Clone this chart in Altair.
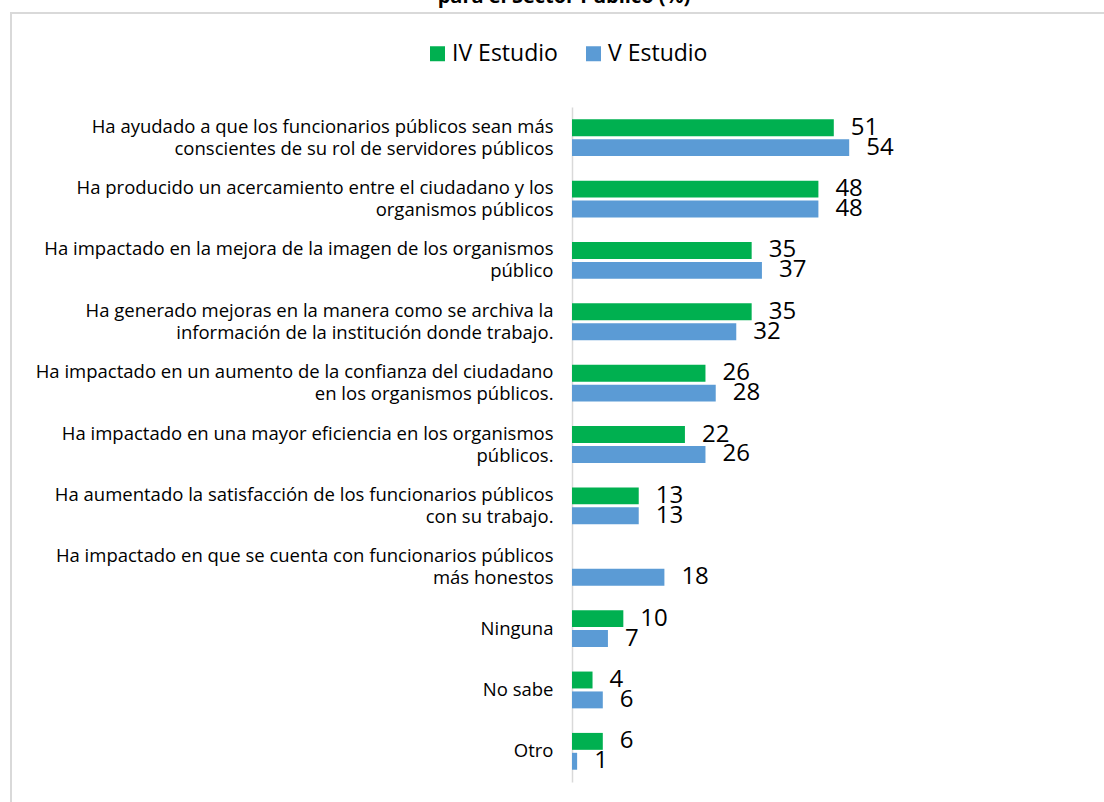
import altair as alt
import pandas as pd

categories = [
    "Ha ayudado a que los funcionarios públicos sean más\nconscientes de su rol de servidores públicos",
    "Ha producido un acercamiento entre el ciudadano y los\norganismos públicos",
    "Ha impactado en la mejora de la imagen de los organismos\npúblico",
    "Ha generado mejoras en la manera como se archiva la\ninformación de la institución donde trabajo.",
    "Ha impactado en un aumento de la confianza del ciudadano\nen los organismos públicos.",
    "Ha impactado en una mayor eficiencia en los organismos\npúblicos.",
    "Ha aumentado la satisfacción de los funcionarios públicos\ncon su trabajo.",
    "Ha impactado en que se cuenta con funcionarios públicos\nmás honestos",
    "Ninguna",
    "No sabe",
    "Otro",
]
studies = ["IV Estudio", "V Estudio"]
iv_values = [51, 48, 35, 35, 26, 22, 13, None, 10, 4, 6]
v_values = [54, 48, 37, 32, 28, 26, 13, 18, 7, 6, 1]
colors = ["#00B050", "#5B9BD5"]
title_text = "para el Sector Público (%)"

rows = []
for c, a, b in zip(categories, iv_values, v_values):
    if a is not None:
        rows.append({"cat": c, "study": studies[0], "value": a})
    if b is not None:
        rows.append({"cat": c, "study": studies[1], "value": b})
df = pd.DataFrame(rows)

FONT = "Open Sans"

base = alt.Chart(df).encode(
    y=alt.Y(
        "cat:N",
        sort=categories,
        scale=alt.Scale(paddingInner=0.4, paddingOuter=0.2),
        axis=alt.Axis(
            title=None,
            ticks=False,
            domainColor="#d9d9d9",
            domainWidth=1.5,
            labelFont=FONT,
            labelFontSize=18.5,
            labelColor="#000000",
            labelLineHeight=22,
            labelPadding=19,
            labelLimit=0,
            labelOffset={
                "condition": {"test": "indexof(datum.label, '\\n') >= 0", "value": -11},
                "value": 0,
            },
            labelExpr="split(datum.label, '\\n')",
        ),
    ),
    yOffset=alt.YOffset(
        "study:N", sort=studies, scale=alt.Scale(domain=studies, paddingInner=0.15)
    ),
    x=alt.X("value:Q", scale=alt.Scale(domain=[0, 60]), axis=None),
)

bars = base.mark_bar().encode(
    color=alt.Color(
        "study:N",
        sort=studies,
        scale=alt.Scale(domain=studies, range=colors),
        legend=alt.Legend(
            title=None,
            orient="none",
            legendX=-146,
            legendY=-65,
            direction="horizontal",
            symbolType="square",
            symbolSize=225,
            symbolStrokeWidth=0,
            labelFont=FONT,
            labelFontSize=23,
            labelColor="#000000",
            labelOffset=3,
            columnPadding=24,
            padding=0,
        ),
    )
)

labels = base.mark_text(
    align="left", baseline="middle", dx=17, font=FONT, fontSize=24, color="#000000"
).encode(text="value:Q")

one = pd.DataFrame({"k": [0]})
frame_left = alt.Chart(one).mark_rule(color="#d9d9d9", strokeWidth=2).encode(
    x=alt.value(-561), y=alt.value(-94), y2=alt.value(900)
)
frame_top = alt.Chart(one).mark_rule(color="#d9d9d9", strokeWidth=2).encode(
    x=alt.value(-562), x2=alt.value(700), y=alt.value(-94)
)

title = alt.Chart(one).mark_text(
    align="center", baseline="alphabetic", font=FONT, fontSize=20, fontWeight="bold", color="#000000"
).encode(x=alt.value(-8), y=alt.value(-104), text=alt.value(title_text))

chart = alt.layer(frame_left, frame_top, title, bars, labels).properties(
    width=308,
    height=675,
    autosize=alt.AutoSizeParams(type="none"),
    padding={"left": 572, "top": 107, "right": 224, "bottom": 20},
    background="white",
).configure_view(stroke=None)

chart.save(
    "out.html",
    embed_options={
        "renderer": "svg",
        "actions": False,
        "defaultStyle": "body{margin:0;overflow:hidden}",
    },
)
